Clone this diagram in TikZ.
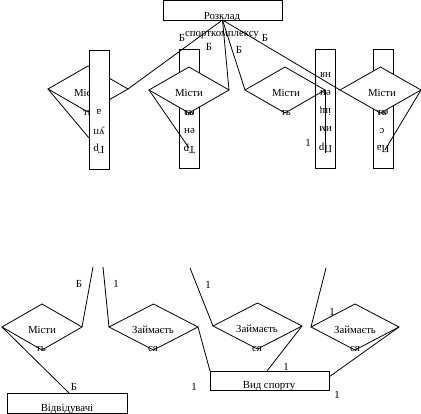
\documentclass[tikz,border=0pt]{standalone}
\usepackage{fontspec}
\setmainfont{Liberation Serif}
\usetikzlibrary{shapes.geometric}
\begin{document}
\begin{tikzpicture}[x=1pt,y=-1pt,
  every node/.style={font=\fontsize{10.8}{12}\selectfont, inner sep=0pt, outer sep=0pt},
  ln/.style={draw=black, line width=0.8pt},
  rel/.style={diamond, draw=black, fill=white, line width=0.8pt, minimum width=80pt, minimum height=46pt, inner sep=0pt, outer sep=0pt},
  ent/.style={rectangle, draw=black, fill=white, line width=0.8pt, inner sep=0pt},
  vbox/.style={rectangle, draw=black, fill=white, line width=0.8pt, minimum width=20pt, minimum height=119pt, inner sep=0pt},
  rt/.style={rotate=180, anchor=center},
  bl/.style={anchor=base},
]
\useasboundingbox (0,0) rectangle (421,414);

% ---------- top row ----------
% diamond 1 under rect 1
\node[rel] (d1) at (88,89) {};
\node[bl] (d1a) at (88,97) {Місти};
\node[bl] (d1b) at (88,115.5) {ть};
\coordinate (c1) at (89,138);
\draw[ln] (d1.west) -- (c1);
\node[vbox] (r1) at (99,109.5) {};
\node[rt] (r1a) at (99,149) {Гр};
\node[rt] (r1b) at (99,130.5) {уп};
\node[rt] (r1c) at (99,112) {а};

% rect 2 under diamond 2
\node[vbox] (r2) at (189.5,108.5) {};
\node[rt] (r2a) at (189.5,149) {Тр};
\node[rt] (r2b) at (189.5,130.5) {ен};
\node[rt] (r2c) at (189.5,112) {ер};
\node[rel] (d2) at (189,90) {};
\node[bl] (d2a) at (189,97) {Місти};
\node[bl] (d2b) at (189,115.5) {ть};
\coordinate (c2) at (189,148);
\draw[ln] (d2.west) -- (c2);

% rect 3 and diamond 3
\node[vbox] (r3) at (325.5,108.5) {};
\node[rt] (r3a) at (325.5,147.5) {Пр};
\node[rt] (r3b) at (325.5,129) {им};
\node[rt] (r3c) at (325.5,110.5) {іщ};
\node[rt] (r3d) at (325.5,92.5) {ен};
\node[rt] (r3e) at (325.5,74.5) {ня};
\node[rel, fill=none] (d3) at (285,90) {};
\node[bl] (d3a) at (286,97) {Місти};
\node[bl] (d3b) at (286,115.5) {ть};
\coordinate (c3) at (325,153);
\draw[ln] (d3.east) -- (c3);

% rect 4 under diamond 4
\node[vbox] (r4) at (383,108.5) {};
\node[rt] (r4a) at (383,149) {Па};
\node[rt] (r4b) at (382,130.5) {с};
\node[rt] (r4c) at (383,112) {ен};
\node[rel, minimum width=81pt] (d4) at (380.5,90) {};
\node[bl] (d4a) at (382,97) {Місти};
\node[bl] (d4b) at (382,115.5) {ть};
\coordinate (c4) at (385,150);
\draw[ln] (d4.east) -- (c4);

% top entity
\node[ent, minimum width=119pt, minimum height=19.5pt] (top) at (222.5,10.25) {};
\node[bl] (topa) at (222,19.5) {Розклад};
\node[bl] (topb) at (222,36.5) {спорткомплексу};

\draw[ln] (top.south) -- (d1.east);
\draw[ln] (top.south) -- (d2.east);
\draw[ln] (top.south) -- (d3.west);
\draw[ln] (top.south) -- (d4.west);

\node (lb1) at (182,37.5) {Б};
\node (lb2) at (209,47) {Б};
\node (lb3) at (239,50) {Б};
\node (lb4) at (265,37.5) {Б};
\node (l1a) at (308,143) {1};

% ---------- bottom row ----------
\node[rel] (d5) at (42,327) {};
\node[bl] (d5a) at (42,333.5) {Місти};
\node[bl] (d5b) at (41,351.5) {ть};
\node[rel, minimum width=89pt] (d6) at (153.5,327) {};
\node[bl] (d6a) at (153,333.5) {Займаєть};
\node[bl] (d6b) at (153,351.5) {ся};
\node[rel, minimum width=89pt] (d7) at (257.5,326) {};
\node[bl] (d7a) at (257,333) {Займаєть};
\node[bl] (d7b) at (257,351.5) {ся};
\node[rel, minimum width=88pt] (d8) at (355,327) {};
\node[bl] (d8a) at (355,334) {Займаєть};
\node[bl] (d8b) at (355,351.5) {ся};

\node[ent, minimum width=120pt, minimum height=20pt] (vis) at (67,403) {};
\node[bl] (visa) at (67,411.5) {Відвідувачі};
\node[ent, minimum width=119pt, minimum height=19pt] (vs) at (269.5,380.5) {};
\node[bl] (vsa) at (269,389) {Вид спорту};

\coordinate (b1) at (93,267);
\coordinate (b2) at (103,267);
\coordinate (b3) at (190,268);
\coordinate (b4) at (326,268);
\draw[ln] (b1) -- (d5.east);
\draw[ln] (b2) -- (d6.west);
\draw[ln] (b3) -- (d7.west);
\draw[ln] (b4) -- (d8.west);
\draw[ln] (d5.west) -- ([xshift=2pt]vis.north);
\draw[ln] (d6.east) -- (vs.north west);
\draw[ln] (d7.east) -- ([xshift=-2.5pt]vs.north);
\draw[ln] (d8.east) -- ([yshift=3.5pt]vs.east);

\node (lb5) at (79,284) {Б};
\node (l1b) at (116,284) {1};
\node (l1c) at (208,285) {1};
\node (lb6) at (74,387) {Б};
\node (l1d) at (194,387) {1};
\node (l1e) at (286,367) {1};
\node (l1f) at (332,312) {1};
\node (l1g) at (337,395) {1};
\end{tikzpicture}
\end{document}
